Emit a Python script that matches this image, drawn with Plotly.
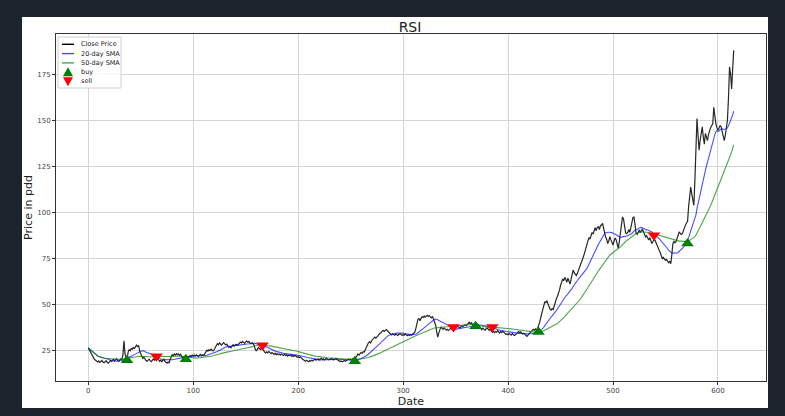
import plotly.graph_objects as go
import pandas as pd

# ---- data ----
close_price = [
    26.3, 25.2, 24.1, 23.2, 22.0, 21.1, 20.0, 19.6, 19.0, 18.7,
    19.2, 18.4, 18.9, 19.5, 18.6, 18.2, 18.8, 19.3, 18.5, 18.0,
    18.6, 19.4, 18.9, 19.6, 20.1, 19.3, 19.8, 20.4, 19.5, 19.0,
    19.6, 20.3, 19.8, 22.5, 30.2, 23.0, 21.0, 20.5, 24.0, 25.5,
    24.8, 26.0, 25.6, 26.4, 26.0, 27.2, 27.8, 27.0, 27.6, 24.5,
    22.8, 21.5, 20.6, 21.2, 20.0, 19.4, 19.0, 19.6, 20.2, 19.4,
    18.8, 19.5, 20.3, 19.6, 21.0, 21.8, 20.8, 19.8, 19.0, 19.5,
    18.8, 19.6, 20.1, 19.0, 18.4, 18.0, 18.6, 18.2, 20.0, 21.8,
    22.6, 22.0, 23.0, 22.4, 23.2, 22.6, 23.0, 22.2, 22.8, 21.6,
    21.0, 21.4, 20.8, 20.5, 21.2, 20.9, 21.6, 22.0, 21.5, 22.3,
    21.8, 22.4, 21.9, 22.5, 22.0, 21.6, 22.3, 22.8, 22.1, 22.6,
    22.2, 23.0, 24.2, 25.0, 24.5, 25.3, 24.8, 25.6, 25.0, 24.6,
    25.4, 26.4, 27.8, 28.6, 28.0, 29.0, 28.4, 27.8, 28.6, 29.2,
    28.5, 27.9, 28.3, 27.2, 26.6, 27.0, 26.4, 27.3, 28.0, 27.4,
    27.8, 28.2, 27.6, 28.4, 29.0, 29.5, 29.0, 29.8, 29.3, 28.8,
    29.6, 30.0, 29.4, 29.8, 29.0, 28.6, 29.2, 28.4, 27.8, 25.6,
    24.8, 25.4, 26.5, 26.0, 25.4, 26.2, 25.8, 25.0, 24.0, 23.6,
    24.2, 23.6, 24.4, 23.8, 23.2, 23.8, 23.4, 22.8, 23.4, 22.6,
    23.2, 22.6, 23.0, 22.4, 23.0, 22.8, 22.2, 22.8, 22.2, 22.6,
    21.8, 22.4, 22.0, 22.6, 21.6, 22.2, 21.7, 22.3, 21.8, 21.2,
    21.6, 21.0, 21.4, 20.6, 20.2, 19.8, 19.4, 19.0, 19.6, 19.2,
    18.8, 19.4, 19.0, 19.6, 19.2, 19.8, 20.2, 19.6, 20.0, 20.4,
    19.8, 20.2, 20.6, 20.0, 20.4, 19.8, 20.3, 20.7, 20.1, 19.8,
    20.3, 20.0, 20.5, 20.1, 19.7, 20.2, 20.6, 20.0, 19.6, 19.3,
    18.9, 19.2, 18.7, 19.0, 19.4, 19.0, 19.5, 19.9, 20.3, 19.8,
    20.2, 19.7, 20.4, 20.0, 20.6, 21.4, 22.0, 23.0, 22.4, 23.2,
    23.8, 23.4, 24.2, 24.0, 25.2, 26.8, 28.4, 29.2, 29.6, 29.0,
    30.2, 30.8, 31.6, 32.2, 31.6, 32.0, 32.8, 33.6, 34.2, 35.0,
    35.4, 35.8, 35.2, 35.9, 36.2, 35.6, 35.1, 34.4, 33.8, 33.4,
    34.0, 33.6, 33.2, 33.8, 33.4, 33.0, 33.6, 34.0, 33.5, 33.1,
    33.6, 33.2, 33.8, 33.4, 32.9, 33.5, 33.1, 33.6, 33.2, 33.8,
    34.2, 34.6, 36.5, 39.8, 41.6, 42.4, 41.0, 42.2, 43.2, 42.8,
    43.6, 43.0, 43.8, 44.0, 43.4, 43.9, 43.2, 42.6, 43.4, 41.5,
    39.8, 38.6, 35.0, 32.2, 34.5, 36.2, 37.7, 37.0, 36.4, 37.2,
    36.6, 36.0, 36.4, 35.8, 36.2, 36.8, 37.2, 37.8, 37.4, 38.0,
    37.5, 37.9, 38.2, 37.6, 37.2, 37.8, 38.4, 37.9, 38.3, 38.8,
    38.4, 39.0, 39.6, 40.2, 39.4, 40.0, 39.2, 38.8, 39.5, 39.0,
    38.6, 39.2, 38.4, 37.6, 36.8, 36.2, 37.0, 36.4, 35.8, 36.6,
    37.2, 36.5, 35.8, 36.4, 35.6, 34.8, 35.4, 34.6, 35.2, 34.8,
    35.6, 35.0, 34.4, 35.2, 34.6, 35.4, 34.8, 34.2, 33.6, 34.0,
    33.4, 34.2, 33.8, 33.2, 34.0, 33.6, 33.0, 33.4, 34.2, 34.8,
    35.2, 34.6, 35.0, 34.4, 33.8, 34.2, 33.6, 33.0, 32.6, 33.2,
    34.0, 34.6, 35.2, 35.8, 36.4, 35.8, 36.6, 36.2, 36.8, 38.2,
    40.0, 42.5, 44.8, 47.0, 49.6, 51.4, 50.8, 52.0, 50.2, 48.4,
    47.4, 46.8, 47.6, 47.2, 49.4, 51.6, 53.0, 54.2, 55.6, 57.8,
    60.2, 62.4, 63.8, 62.8, 64.6, 63.6, 62.0, 64.2, 62.4, 61.0,
    63.6, 66.0, 68.6, 67.2, 66.4, 65.6, 66.8, 68.2, 69.4, 70.8,
    72.2, 74.6, 76.2, 78.4, 80.6, 83.0, 85.0, 86.2, 85.4, 87.6,
    89.0, 88.2, 90.4, 91.6, 90.0, 91.8, 92.2, 90.6, 92.8, 93.0,
    94.0, 91.0, 89.6, 86.4, 85.2, 83.0, 84.6, 86.8, 85.0, 83.6,
    82.2, 84.4, 86.0, 85.0, 82.4, 80.4, 84.2, 89.0, 94.6, 97.4,
    96.2, 92.0, 88.8, 88.4, 89.0, 90.6, 89.2, 91.6, 94.8, 97.2,
    97.4, 93.0, 88.6, 88.0, 89.6, 90.4, 89.0, 90.2, 91.0, 89.4,
    87.6, 86.6, 87.2, 86.4, 85.0, 86.2, 84.4, 83.0, 84.0, 85.2,
    84.8, 83.2, 81.4, 80.0, 79.3, 78.0, 76.4, 74.8, 75.4, 74.6,
    73.9, 74.4, 73.2, 72.6, 73.4, 72.0, 76.8, 83.0, 84.2, 83.4,
    84.0, 86.0, 87.6, 89.3, 88.6, 88.0, 88.4, 90.2, 91.6, 93.0,
    94.2, 95.0, 103.0, 108.6, 113.7, 110.0, 106.2, 103.8, 117.4, 134.0,
    151.0, 142.0, 133.7, 139.0, 142.6, 146.4, 141.0, 137.0, 142.8, 141.2,
    139.0, 142.4, 144.6, 146.0, 147.2, 148.0, 157.0, 152.0, 148.0, 146.0,
    144.6, 145.8, 147.2, 146.4, 144.2, 141.6, 139.0, 142.0, 145.4, 150.0,
    162.0, 179.0, 175.0, 167.0, 178.0, 188.0,
]
days = list(range(len(close_price)))

buy_days = [37, 93, 254, 369, 429, 571]
buy_prices = [19.6, 20.1, 19.0, 38.0, 35.0, 83.0]
sell_days = [65, 166, 348, 385, 539]
sell_prices = [21.7, 27.7, 37.7, 37.7, 87.5]

x_ticks = [0, 100, 200, 300, 400, 500, 600]
y_ticks = [25, 50, 75, 100, 125, 150, 175]

legend_labels = ["Close Price", "20-day SMA", "50-day SMA", "buy", "sell"]

# moving averages of the close price
s = pd.Series(close_price)
sma20 = s.rolling(20, min_periods=1).mean().tolist()
sma50 = s.rolling(50, min_periods=1).mean().tolist()

BLUE = "rgba(0,0,255,0.7)"
GREEN = "rgba(0,128,0,0.7)"
FONT = "DejaVu Sans"

fig = go.Figure()
fig.add_trace(go.Scatter(x=days, y=close_price, mode="lines", name=legend_labels[0],
                         line=dict(color="rgba(0,0,0,0.85)", width=1.2), showlegend=False))
fig.add_trace(go.Scatter(x=days, y=sma20, mode="lines", name=legend_labels[1],
                         line=dict(color=BLUE, width=1.1), showlegend=False))
fig.add_trace(go.Scatter(x=days, y=sma50, mode="lines", name=legend_labels[2],
                         line=dict(color=GREEN, width=1.1), showlegend=False))
fig.add_trace(go.Scatter(x=buy_days, y=buy_prices, mode="markers", name=legend_labels[3],
                         marker=dict(symbol="triangle-up", size=11, color="green"), showlegend=False))
fig.add_trace(go.Scatter(x=sell_days, y=sell_prices, mode="markers", name=legend_labels[4],
                         marker=dict(symbol="triangle-down", size=11, color="red"), showlegend=False))

W, H = 785, 416
L, R, T, B = 56, 19, 34, 35
pw, ph = W - L - R, H - T - B


def px(xp):
    return (xp - L) / pw


def py(yp):
    return (H - B - yp) / ph


def tri_path(cx, cy, w, h, up=True):
    # triangle legend glyph, given in pixels, converted to paper coords
    if up:
        pts = [(cx - w / 2, cy + h / 2), (cx + w / 2, cy + h / 2), (cx, cy - h / 2)]
    else:
        pts = [(cx - w / 2, cy - h / 2), (cx + w / 2, cy - h / 2), (cx, cy + h / 2)]
    return "M " + " L ".join(f"{px(a):.5f},{py(b):.5f}" for a, b in pts) + " Z"


shapes = [
    # white figure card on dark page
    dict(type="rect", xref="paper", yref="paper", layer="below",
         x0=px(22), x1=px(768), y0=py(408), y1=py(17),
         fillcolor="white", line=dict(width=0)),
    # legend box
    dict(type="rect", xref="paper", yref="paper", layer="above",
         x0=px(58), x1=px(121), y0=py(88), y1=py(37),
         fillcolor="rgba(255,255,255,0.85)", line=dict(color="#d0d0d0", width=1)),
]
line_colors = ["black", BLUE, GREEN]
row_y = [44.3, 53.6, 62.9, 72.2, 81.2]
for c, ry in zip(line_colors, row_y[:3]):
    shapes.append(dict(type="line", xref="paper", yref="paper", layer="above",
                       x0=px(62), x1=px(74), y0=py(ry), y1=py(ry),
                       line=dict(color=c, width=1.4)))
shapes.append(dict(type="path", xref="paper", yref="paper", layer="above",
                   path=tri_path(68, row_y[3] - 0.5, 10, 9, up=True),
                   fillcolor="green", line=dict(width=0)))
shapes.append(dict(type="path", xref="paper", yref="paper", layer="above",
                   path=tri_path(68, row_y[4] + 0.5, 10, 9, up=False),
                   fillcolor="red", line=dict(width=0)))

annotations = []
for lab, ry in zip(legend_labels, row_y):
    annotations.append(dict(text=lab, xref="paper", yref="paper", x=px(79), y=py(ry),
                            xanchor="left", yanchor="middle", showarrow=False,
                            font=dict(family=FONT, size=6.5, color="#222")))

axis_common = dict(showgrid=True, gridcolor="#d5d5d5", gridwidth=1,
                   showline=True, linecolor="#333", linewidth=1, mirror=True,
                   ticks="outside", ticklen=3, tickcolor="#333",
                   tickfont=dict(family=FONT, size=7, color="#444"), zeroline=False)

fig.update_layout(
    width=W, height=H,
    margin=dict(l=L, r=R, t=T, b=B, pad=0),
    paper_bgcolor="#1b232d",
    plot_bgcolor="white",
    showlegend=False,
    title=dict(text="RSI", x=px(410), xref="paper", xanchor="center",
               y=1 - 27 / H, yref="container", yanchor="middle",
               font=dict(family=FONT, size=14, color="#222")),
    xaxis=dict(range=[-30.75, 645.75], tickvals=x_ticks,
               title=dict(text="Date", standoff=2, font=dict(family=FONT, size=11, color="#222")),
               **axis_common),
    yaxis=dict(range=[8.3, 196.9], tickvals=y_ticks,
               title=dict(text="Price in pdd", standoff=2, font=dict(family=FONT, size=11, color="#222")),
               **axis_common),
    shapes=shapes,
    annotations=annotations,
)

fig.write_html(
    "out.html",
    config={"displayModeBar": False},
    post_script="document.body.style.margin='0';document.body.style.padding='0';"
                "document.body.style.overflow='hidden';document.body.style.background='#1b232d';",
)
